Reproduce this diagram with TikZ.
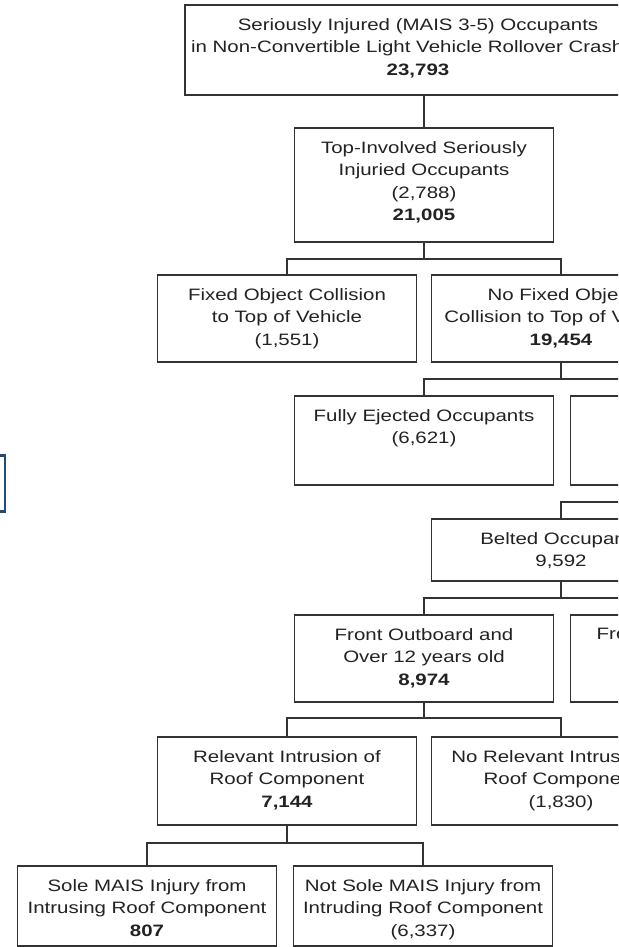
\documentclass[tikz,border=0pt]{standalone}
\usepackage{fontspec}
\setmainfont{Liberation Sans}[FakeStretch=1.24]
\definecolor{boxgray}{HTML}{333333}
\definecolor{txtgray}{HTML}{222222}
\definecolor{navyline}{HTML}{1F4A7A}

\begin{document}
\begin{tikzpicture}[x=1pt,y=-1pt]

    \tikzset{
      cbox/.style={
        draw=boxgray,
        line width=1.6pt,
        minimum width=259pt,
        inner sep=0pt,
        outer sep=0pt,
      },
      ctext/.style={
        anchor=north,
        yshift=-13pt,
        align=center,
        inner sep=0pt,
        text=txtgray,
        font=\fontsize{16.5}{22.5}\selectfont,
      },
      link/.style={draw=boxgray, line width=1.6pt},
    }
    \useasboundingbox (0,0) rectangle (618,947);
    \clip (0,0) rectangle (618,947);

	\node[cbox, minimum width=466pt, minimum height=90pt, label={[ctext]north:{Seriously Injured (MAIS 3-5) Occupants\\in Non-Convertible Light Vehicle Rollover Crashes\\\textbf{23,793}}}] (seriously) at (418,50) {};
	\node[cbox, minimum height=114pt, label={[ctext]north:{Top-Involved Seriously\\Injuried Occupants\\(2,788)\\\textbf{21,005}}}] (topinv) at (424,185) {};
	\node[cbox, minimum height=87pt, label={[ctext]north:{Fixed Object Collision\\to Top of Vehicle\\(1,551)}}] (fixobj) at (287,318.5) {};
	\node[cbox, minimum height=87pt, label={[ctext]north:{No Fixed Object\\Collision to Top of Vehicle\\\textbf{19,454}}}] (nofixobj) at (561,318.5) {};
	\node[cbox, minimum height=89pt, label={[ctext]north:{Fully Ejected Occupants\\(6,621)}}] (ejected) at (424,440.5) {};
	\node[cbox, minimum height=89pt] (notejected) at (700,440.5) {};
	\node[cbox, minimum height=62pt, label={[ctext]north:{Belted Occupants\\9,592}}] (belted) at (561,550) {};
	\node[cbox, minimum height=87pt, label={[ctext]north:{Front Outboard and\\Over 12 years old\\\textbf{8,974}}}] (frontout) at (424,658.5) {};
	\node[cbox, minimum height=87pt, label={[ctext, anchor=north west, xshift=26pt]north west:{Fro}}] (frontother) at (700,658.5) {};
	\node[cbox, minimum height=88pt, label={[ctext]north:{Relevant Intrusion of\\Roof Component\\\textbf{7,144}}}] (relintr) at (287,781) {};
	\node[cbox, minimum height=88pt, label={[ctext]north:{No Relevant Intrusion of\\Roof Component\\(1,830)}}] (norelintr) at (561,781) {};
	\node[cbox, minimum height=80pt, label={[ctext]north:{Sole MAIS Injury from\\Intrusing Roof Component\\\textbf{807}}}] (sole) at (147,906) {};
	\node[cbox, minimum height=80pt, label={[ctext]north:{Not Sole MAIS Injury from\\Intruding Roof Component\\(6,337)}}] (notsole) at (423,906) {};
	\node[draw=navyline, line width=2.2pt, minimum width=40pt, minimum height=56pt] (sidebox) at (-15,483.5) {};

	\draw[link] (seriously.south -| topinv) -- (topinv);
	\draw[link] (topinv) -- (topinv |- 0,259) -| (fixobj);
	\draw[link] (topinv |- 0,259) -| (nofixobj);
	\draw[link] (nofixobj) -- (nofixobj |- 0,379) -| (ejected);
	\draw[link] (nofixobj |- 0,379) -| (notejected);
	\draw[link] (notejected) -- (notejected |- 0,502) -| (belted);
	\draw[link] (belted) -- (belted |- 0,598) -| (frontout);
	\draw[link] (belted |- 0,598) -| (frontother);
	\draw[link] (frontout) -- (frontout |- 0,718) -| (relintr);
	\draw[link] (frontout |- 0,718) -| (norelintr);
	\draw[link] (relintr) -- (relintr |- 0,843) -| (sole);
	\draw[link] (relintr |- 0,843) -| (notsole);

\end{tikzpicture}
\end{document}
